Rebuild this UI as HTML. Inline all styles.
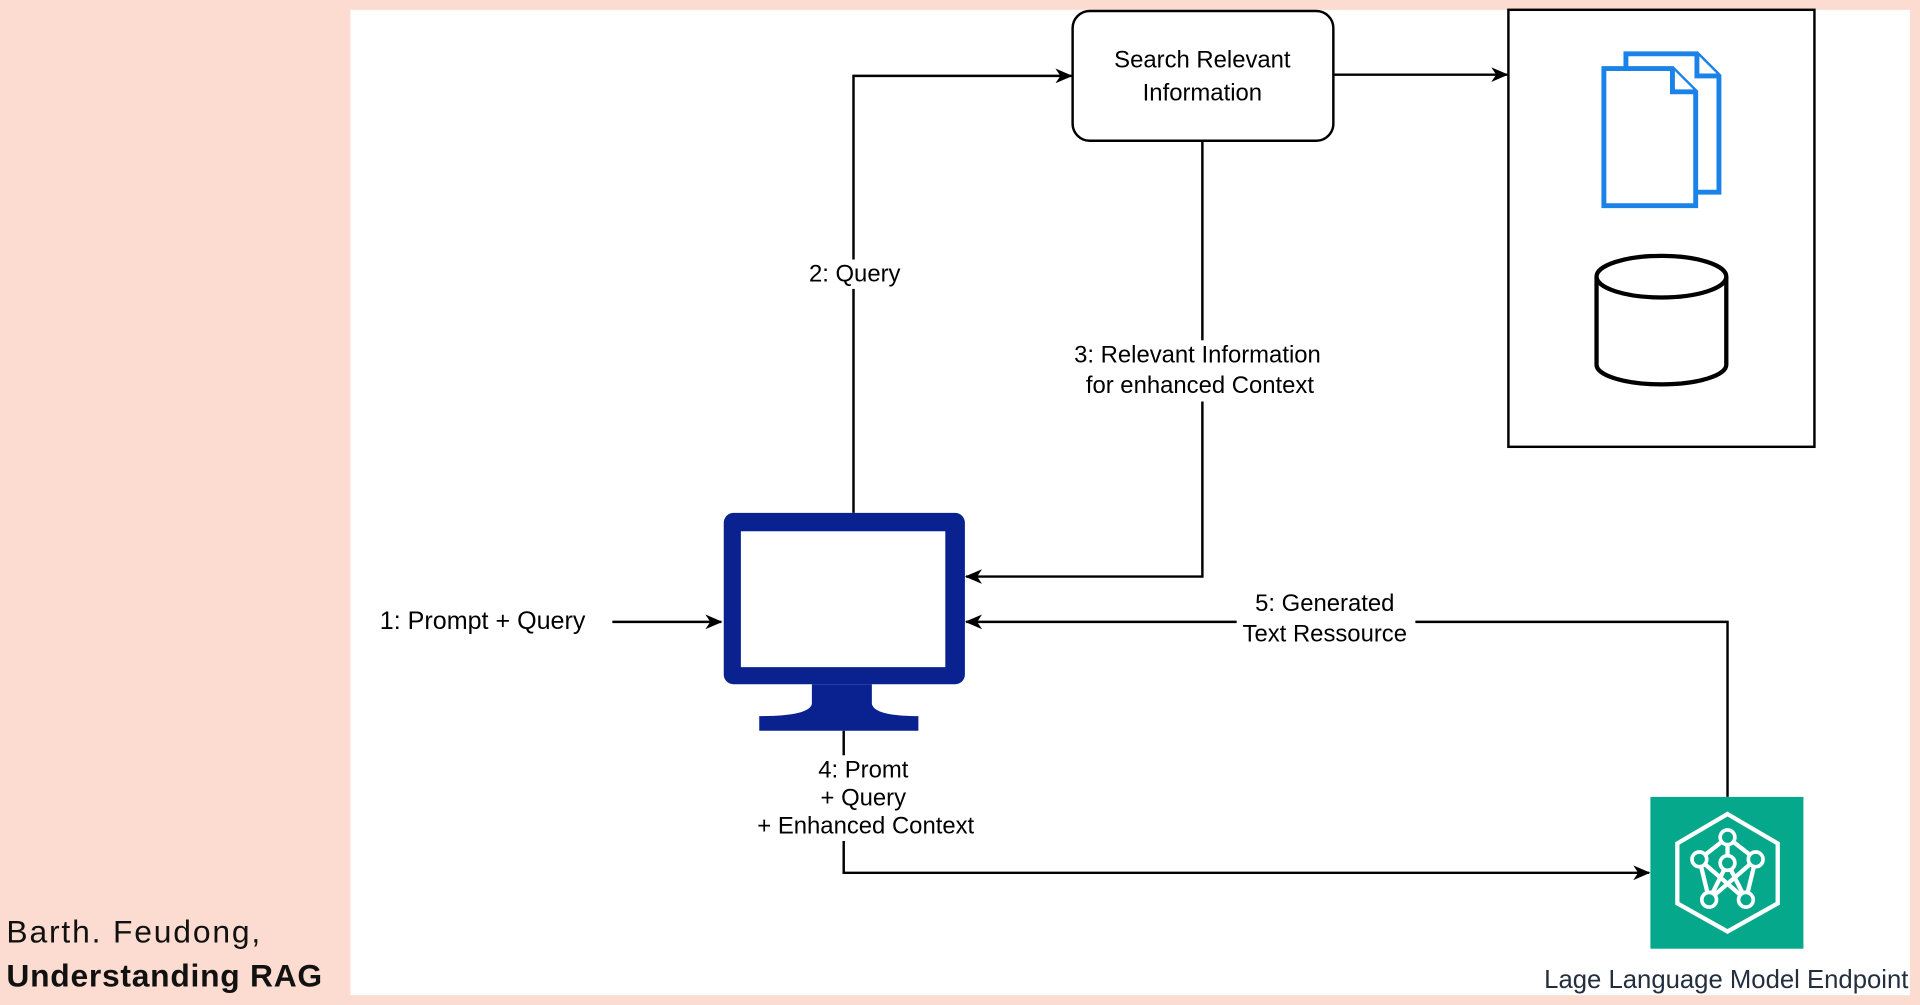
<!DOCTYPE html>
<html><head><meta charset="utf-8"><style>
html,body{margin:0;padding:0;width:1920px;height:1005px;overflow:hidden;background:#fcdcd0}
svg{display:block}
text{font-family:"Liberation Sans",sans-serif}
</style></head><body>
<svg width="1920" height="1005" viewBox="0 0 1568 821" xmlns="http://www.w3.org/2000/svg">
<defs><marker id="a" markerWidth="14" markerHeight="12" refX="13" refY="6" orient="auto" markerUnits="userSpaceOnUse"><path d="M0,0 L14,6 L0,12 L4,6 z" fill="#000"/></marker></defs>
<rect x="0" y="0" width="1568" height="821" fill="#fcdcd0"/>
<rect x="286" y="8" width="1274" height="805" fill="#fff"/>
<g fill="none" stroke="#000" stroke-width="2">
<rect x="876" y="9" width="213" height="106" rx="14" fill="#fff"/>
<line x1="1089" y1="61" x2="1231" y2="61" marker-end="url(#a)"/>
<rect x="1232" y="8" width="250" height="357"/>
<polyline points="697,419 697,62 875,62" marker-end="url(#a)"/>
<polyline points="982,115 982,471 789,471" marker-end="url(#a)"/>
<line x1="500" y1="508" x2="589" y2="508" marker-end="url(#a)"/>
<polyline points="1411,651 1411,508 789,508" marker-end="url(#a)"/>
<polyline points="689,597 689,713 1347,713" marker-end="url(#a)"/>
</g>
<g fill="#fff" stroke="#1a82e8" stroke-width="4">
<path d="M1328,44 L1386,44 L1404,62 L1404,157 L1328,157 Z"/>
<path d="M1386,44 L1386,62 L1404,62"/>
<path d="M1310,56 L1366,56 L1385,75 L1385,168 L1310,168 Z"/>
<path d="M1366,56 L1366,75 L1385,75"/>
</g>
<g fill="#fff" stroke="#000" stroke-width="3.5">
<path d="M1304,226 L1304,298 A53,16 0 0 0 1410,298 L1410,226"/>
<ellipse cx="1357" cy="226" rx="53" ry="17"/>
</g>
<rect x="591" y="419" width="197" height="140" rx="8" fill="#0a2190"/>
<rect x="605" y="434" width="167" height="111" fill="#fff"/>
<path d="M663,559 L712,559 L712,575 Q714,585 750,585 L750,597 L620,597 L620,585 Q661,585 663,575 Z" fill="#0a2190"/>
<rect x="1348" y="651" width="125" height="124" fill="#05a88a"/>
<g fill="none" stroke="#fff" stroke-width="3.5">
<polygon points="1411,665 1452,689 1452,738 1411,761 1370,738 1370,689"/>
<path d="M1411,684 L1411,705 M1411,684 L1388,702 M1411,684 L1434,702 M1388,702 L1396,735 M1434,702 L1426,735 M1388,702 L1426,735 M1434,702 L1396,735 M1411,705 L1396,735 M1411,705 L1426,735"/>
</g>
<g fill="#05a88a" stroke="#fff" stroke-width="3">
<circle cx="1411" cy="684" r="6"/><circle cx="1388" cy="702" r="6"/><circle cx="1434" cy="702" r="6"/><circle cx="1411" cy="705" r="6"/><circle cx="1396" cy="735" r="6"/><circle cx="1426" cy="735" r="6"/>
</g>
<g font-size="19.5" fill="#000" text-anchor="middle">
<text x="982" y="55">Search Relevant</text>
<text x="982" y="82">Information</text>
<rect x="655" y="212" width="86" height="24" fill="#fff"/>
<text x="698" y="230">2: Query</text>
<rect x="870" y="278" width="216" height="50" fill="#fff"/>
<text x="978" y="296">3: Relevant Information</text>
<text x="980" y="321">for enhanced Context</text>
<text x="394" y="514" font-size="20.5">1: Prompt + Query</text>
<rect x="1010" y="481" width="146" height="50" fill="#fff"/>
<text x="1082" y="499">5: Generated</text>
<text x="1082" y="524">Text Ressource</text>
<rect x="613" y="617" width="190" height="70" fill="#fff"/>
<text x="705" y="635">4: Promt</text>
<text x="705" y="658">+ Query</text>
<text x="707" y="681">+ Enhanced Context</text>
<text x="1410" y="807" font-size="21" fill="#232f3e">Lage Language Model Endpoint</text>
</g>
<text x="5" y="770" font-size="26" letter-spacing="1.5" fill="#111">Barth. Feudong,</text>
<text x="5" y="806" font-size="26" font-weight="bold" letter-spacing="0.6" fill="#111">Understanding RAG</text>
</svg>
</body></html>
